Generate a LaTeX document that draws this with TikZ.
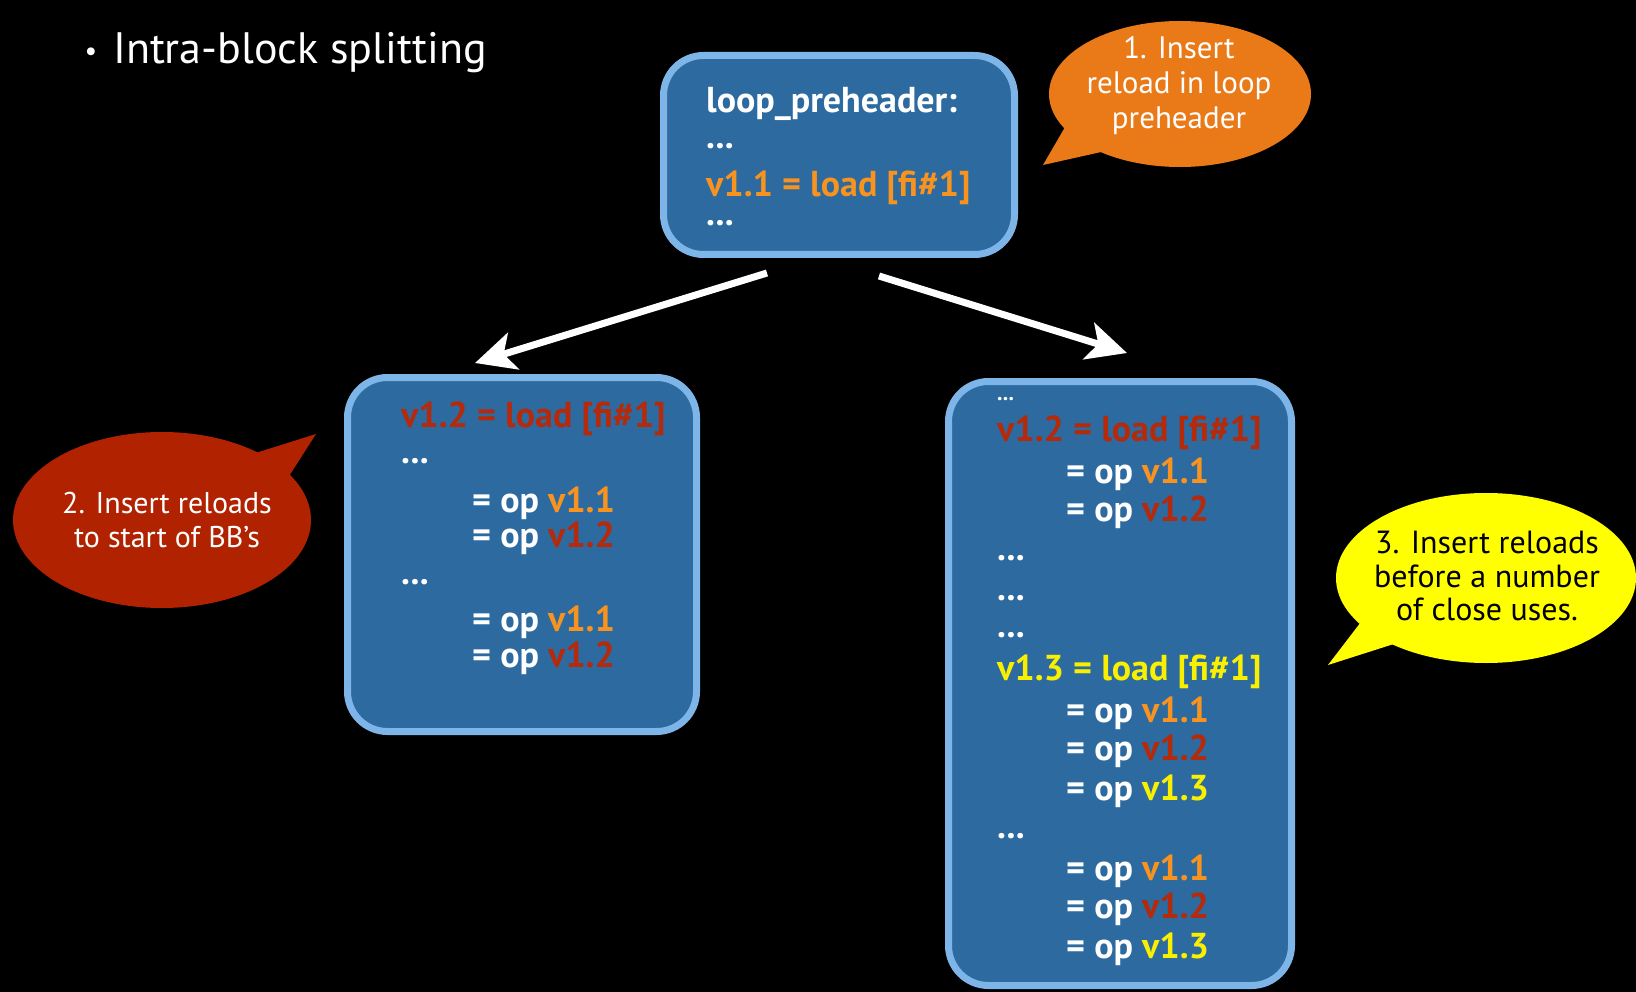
\documentclass[tikz,border=0pt]{standalone}
\usepackage{fontspec}
\setmainfont{PT Sans}
\usetikzlibrary{arrows.meta,calc,shapes.geometric}
\definecolor{boxfill}{HTML}{2C6AA0}
\definecolor{boxborder}{HTML}{7EB5E8}
\definecolor{orT}{HTML}{F7931E}
\definecolor{rdT}{HTML}{B52A0A}
\definecolor{ylT}{HTML}{F8F000}
\definecolor{orC}{HTML}{EA7A18}
\definecolor{rdC}{HTML}{B02200}
\definecolor{ylC}{HTML}{FFFF00}
\tikzset{
  bb/.style={draw=boxborder, fill=boxfill, line width=7pt, rounded corners=40pt, inner sep=0pt},
  code/.style={anchor=base west, inner sep=0pt, text=white, font=\fontsize{36}{38}\selectfont\bfseries},
  smalldots/.style={anchor=base west, inner sep=0pt, text=white, font=\fontsize{22}{26}\selectfont\bfseries},
  bigarrow/.style={draw=white, line width=7pt, -{Stealth[length=40pt,width=38pt,inset=10pt]}},
  callouttext/.style={align=center, inner sep=0pt, font=\fontsize{31}{35}\selectfont},
}
\begin{document}
\begin{tikzpicture}[x=1pt,y=-1pt]
\fill[black] (0,0) rectangle (1636,992);
\useasboundingbox (0,0) rectangle (1636,992);

% bullet line
\node[anchor=base, inner sep=0pt, text=white, font=\fontsize{28}{30}\selectfont] (bul) at (91,61) {•};
\node[anchor=base west, inner sep=0pt, text=white, font=\fontsize{44}{48}\selectfont] (title) at (113,64) {Intra-block splitting};

% boxes
\node[bb, minimum width=351pt, minimum height=199pt] (top) at (839,155) {};
\node[bb, minimum width=349pt, minimum height=354pt] (left) at (522,554.5) {};
\node[bb, minimum width=343pt, minimum height=604pt] (right) at (1120,683.5) {};

% top box text
\node[code] (t1) at (706,113) {loop\_preheader:};
\node[code] (t2) at (706,149) {...};
\node[code, text=orT] (t3) at (706,197) {v1.1 = load [fi\#1]};
\node[code] (t4) at (706,226) {...};

% left box text
\node[code, text=rdT] (l1) at (401,427) {v1.2 = load [fi\#1]};
\node[code] (l2) at (401,463) {...};
\node[code] (l3) at (472,512) {= op \textcolor{orT}{v1.1}};
\node[code] (l4) at (472,547) {= op \textcolor{rdT}{v1.2}};
\node[code] (l5) at (401,584) {...};
\node[code] (l6) at (472,631) {= op \textcolor{orT}{v1.1}};
\node[code] (l7) at (472,667) {= op \textcolor{rdT}{v1.2}};

% right box text
\node[smalldots] (r0) at (997,400) {...};
\node[code, text=rdT] (r1) at (997,441) {v1.2 = load [fi\#1]};
\node[code] (r2) at (1066,483) {= op \textcolor{orT}{v1.1}};
\node[code] (r3) at (1066,521) {= op \textcolor{rdT}{v1.2}};
\node[code] (r4) at (997,560) {...};
\node[code] (r5) at (997,600) {...};
\node[code] (r6) at (997,637) {...};
\node[code, text=ylT] (r7) at (997,680) {v1.3 = load [fi\#1]};
\node[code] (r8) at (1066,722) {= op \textcolor{orT}{v1.1}};
\node[code] (r9) at (1066,760) {= op \textcolor{rdT}{v1.2}};
\node[code] (r10) at (1066,800) {= op \textcolor{ylT}{v1.3}};
\node[code] (r11) at (997,838) {...};
\node[code] (r12) at (1066,880) {= op \textcolor{orT}{v1.1}};
\node[code] (r13) at (1066,918) {= op \textcolor{rdT}{v1.2}};
\node[code] (r14) at (1066,958) {= op \textcolor{ylT}{v1.3}};

% arrows
\coordinate (a1s) at (767,273);
\coordinate (a1e) at (475,363);
\coordinate (a2s) at (879,276);
\coordinate (a2e) at (1127,353);
\draw[bigarrow] (a1s) -- (a1e);
\draw[bigarrow] (a2s) -- (a2e);

% orange callout
\coordinate (oc1) at (1068,122);
\coordinate (oc2) at (1110,150);
\coordinate (octip) at (1043,165);
\fill[orC] (oc1) -- (octip) -- (oc2) -- cycle;
\node[ellipse, fill=orC, minimum width=262pt, minimum height=146pt, inner sep=0pt] (oe) at (1180,94) {};
\node[callouttext, text=white] (ot) at (1179,86) {1. Insert\\reload in loop\\preheader};

% red callout
\coordinate (rc1) at (246,456);
\coordinate (rc2) at (284,484);
\coordinate (rctip) at (316,434);
\fill[rdC] (rc1) -- (rctip) -- (rc2) -- cycle;
\node[ellipse, fill=rdC, minimum width=298pt, minimum height=176pt, inner sep=0pt] (re) at (162,520) {};
\node[callouttext, text=white, font=\fontsize{30}{34}\selectfont] (rt) at (167,520) {2. Insert reloads\\to start of BB’s};

% yellow callout
\coordinate (yc1) at (1364,618);
\coordinate (yc2) at (1400,642);
\coordinate (yctip) at (1328,665);
\fill[ylC] (yc1) -- (yctip) -- (yc2) -- cycle;
\node[ellipse, fill=ylC, minimum width=300pt, minimum height=170pt, inner sep=0pt] (ye) at (1486,578) {};
\node[callouttext, text=black, font=\fontsize{32}{33.5}\selectfont] (yt) at (1487,576) {3. Insert reloads\\before a number\\of close uses.};
\end{tikzpicture}
\end{document}
